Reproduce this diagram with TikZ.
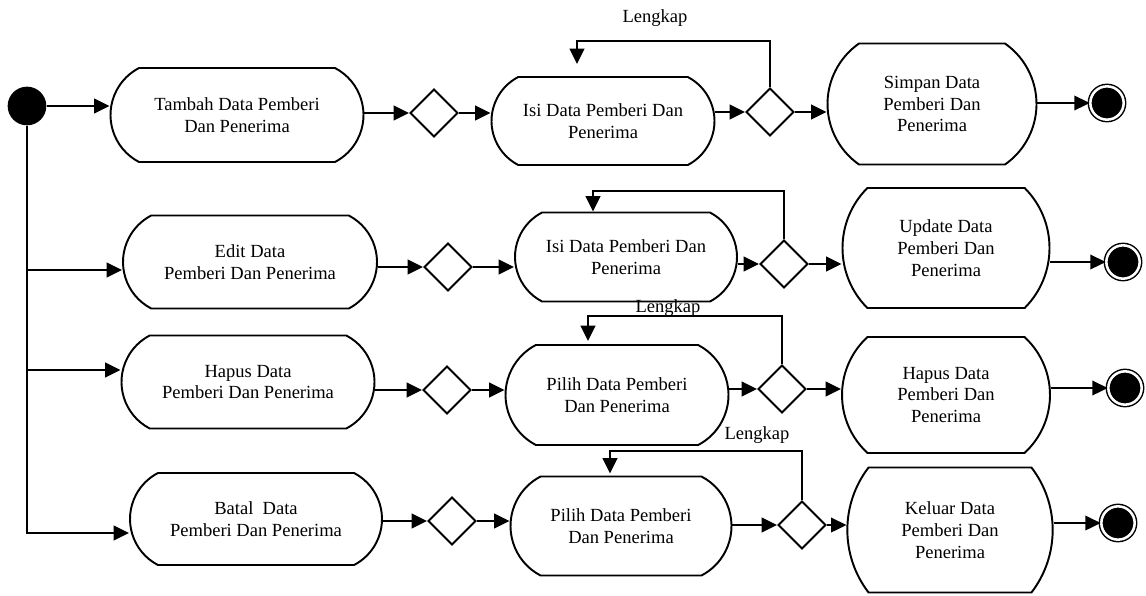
\documentclass[tikz,border=0pt]{standalone}
\usepackage{fontspec}
\setmainfont{Liberation Serif}
\usetikzlibrary{shapes.misc,shapes.geometric,arrows.meta}

\begin{document}
\begin{tikzpicture}[x=0.75pt,y=-0.75pt,line width=1.45pt,
  font=\fontsize{13.9}{16.3}\selectfont,
  act/.style 2 args={draw,rounded rectangle,rounded rectangle arc length=125,
    minimum width=#1*0.75pt,minimum height=#2*0.75pt,align=center,inner sep=0pt},
  choice/.style={draw,diamond,minimum width=36pt,minimum height=36pt,inner sep=0pt},
  startdot/.style={circle,fill=black,minimum size=29pt,inner sep=0pt},
  enddot/.style={circle,draw=black,fill=black,double=white,double distance=1.9pt,
    line width=1.1pt,minimum size=25pt,inner sep=0pt},
  flow/.style={-{Triangle[length=11.5pt,width=11pt]}}]
\useasboundingbox (0,0) rectangle (1146,596);

\node[startdot] (start) at (27,106) {};

\node[act={253}{94}] (tambah) at (237,115) {Tambah Data Pemberi\\Dan Penerima};
\node[choice] (d1) at (434,113) {};
\node[act={223}{88}] (isi1) at (603,121) {Isi Data Pemberi Dan\\Penerima};
\node[choice] (d2) at (770,112) {};
\node[act={209}{121},rounded rectangle arc length=110] (simpan) at (932,104) {Simpan Data\\Pemberi Dan\\Penerima};
\node[enddot] (fin1) at (1107,103) {};

\node[act={254}{93}] (edit) at (250,262) {Edit Data\\Pemberi Dan Penerima};
\node[choice] (d3) at (448,267) {};
\node[act={222}{89}] (isi2) at (626,257) {Isi Data Pemberi Dan\\Penerima};
\node[choice] (d4) at (784,264) {};
\node[act={207}{120},rounded rectangle arc length=90] (update) at (946,248) {Update Data\\Pemberi Dan\\Penerima};
\node[enddot] (fin2) at (1123,262) {};

\node[act={253}{93}] (hapus) at (248,382) {Hapus Data\\Pemberi Dan Penerima};
\node[choice] (d5) at (447,390) {};
\node[act={223}{100}] (pilih1) at (617,395) {Pilih Data Pemberi\\Dan Penerima};
\node[choice] (d6) at (782,389) {};
\node[act={208}{116},rounded rectangle arc length=95] (hapus2) at (946,395) {Hapus Data\\Pemberi Dan\\Penerima};
\node[enddot] (fin3) at (1125,388) {};

\node[act={252}{92}] (batal) at (256,519) {Batal\ \ Data\\Pemberi Dan Penerima};
\node[choice] (d7) at (452,521) {};
\node[act={221}{99}] (pilih2) at (621,526) {Pilih Data Pemberi\\Dan Penerima};
\node[choice] (d8) at (802,525) {};
\node[act={184}{125},rounded rectangle arc length=75] (keluar) at (950,530) {Keluar Data\\Pemberi Dan\\Penerima};
\node[enddot] (fin4) at (1118,523) {};

\node (lk1) at (655,18) {Lengkap};
\node (lk3) at (668,308) {Lengkap};
\node (lk4) at (757,435) {Lengkap};

\coordinate (br1) at (27,270);
\coordinate (br2) at (27,370);
\coordinate (br3) at (27,533);

\draw[flow] (start.east) -- (start.east -| tambah.west);
\draw[flow] (start.south) |- (br3 -| batal.west);
\draw[flow] (br1) -- (br1 -| edit.west);
\draw[flow] (br2) -- (br2 -| hapus.west);

\draw[flow] (tambah.east |- d1) -- (d1.west);
\draw[flow] (d1.east) -- (d1 -| isi1.west);
\draw[flow] (isi1.east |- d2) -- (d2.west);
\draw[flow] (d2.east) -- (d2 -| simpan.west);
\draw[flow] (simpan.east |- fin1) -- (fin1.west);
\draw[flow] (d2.north) -- ++(0,-46) -| ([shift={(-26,-12)}]isi1.north);

\draw[flow] (edit.east |- d3) -- (d3.west);
\draw[flow] (d3.east) -- (d3 -| isi2.west);
\draw[flow] (isi2.east |- d4) -- (d4.west);
\draw[flow] (d4.east) -- (d4 -| update.west);
\draw[flow] (update.east |- fin2) -- (fin2.west);
\draw[flow] (d4.north) -- ++(0,-48) -| ([shift={(-33,0)}]isi2.north);

\draw[flow] (hapus.east |- d5) -- (d5.west);
\draw[flow] (d5.east) -- (d5 -| pilih1.west);
\draw[flow] (pilih1.east |- d6) -- (d6.west);
\draw[flow] (d6.east) -- (d6 -| hapus2.west);
\draw[flow] (hapus2.east |- fin3) -- (fin3.west);
\draw[flow] (d6.north) -- ++(0,-48) -| ([shift={(-29,-3)}]pilih1.north);

\draw[flow] (batal.east |- d7) -- (d7.west);
\draw[flow] (d7.east) -- (d7 -| pilih2.west);
\draw[flow] (pilih2.east |- d8) -- (d8.west);
\draw[flow] (d8.east) -- (d8 -| keluar.west);
\draw[flow] (keluar.east |- fin4) -- (fin4.west);
\draw[flow] (d8.north) -- ++(0,-49) -| ([shift={(-11,-2)}]pilih2.north);
\end{tikzpicture}
\end{document}
